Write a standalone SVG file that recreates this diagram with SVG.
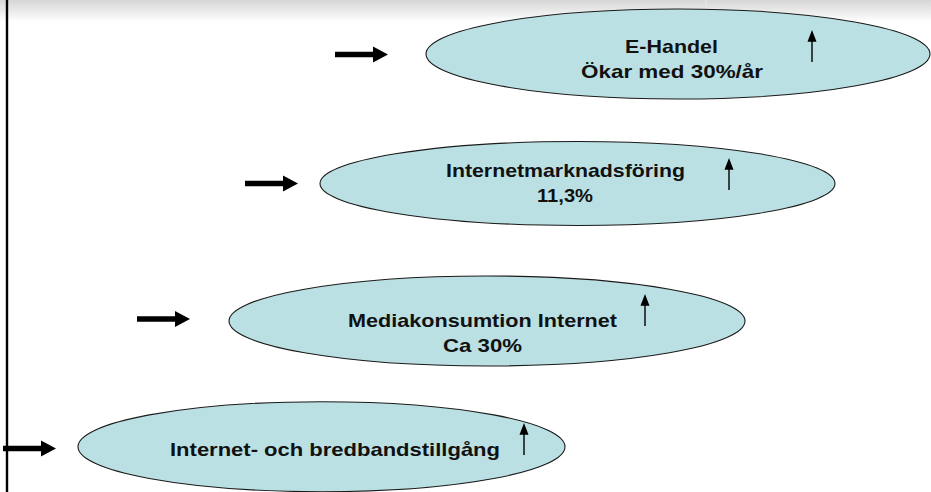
<svg xmlns="http://www.w3.org/2000/svg" width="931" height="492" viewBox="0 0 931 492">
  <defs>
    <linearGradient id="topfade" x1="0" y1="0" x2="0" y2="1">
      <stop offset="0" stop-color="#d6d6d6"/>
      <stop offset="1" stop-color="#ffffff"/>
    </linearGradient>
    <path id="blockArrow" d="M0,-2.8 H38 V-8 L53,0 L38,8 V2.8 H0 Z"/>
    <path id="upArrow" d="M0,0 V-22 M-3.5,-21 L0,-30 L3.5,-21 Z"/>
  </defs>
  <style>
    .bubble { fill: #BBE0E3; stroke: #1a1a1a; stroke-width: 1.1; }
    .lbl { font-family: "Liberation Sans", Arial, sans-serif; font-size: 19px; font-weight: bold; fill: #111; text-anchor: middle; }
    .up { stroke: #000; stroke-width: 1.4; fill: #000; }
    .blk { fill: #000; }
  </style>
  <rect x="0" y="0" width="931" height="492" fill="#ffffff"/>
  <rect x="0" y="0" width="931" height="22" fill="url(#topfade)"/>
  <line x1="706" y1="0" x2="706" y2="14" stroke="#eaeaea" stroke-width="1"/>
  <line x1="7" y1="0" x2="7" y2="492" stroke="#000" stroke-width="2.4"/>

  <g id="node-ehandel">
    <ellipse class="bubble" cx="678" cy="54" rx="252" ry="45"/>
    <text class="lbl" x="671.5" y="53" textLength="93" lengthAdjust="spacingAndGlyphs">E-Handel</text>
    <text class="lbl" x="672" y="78" textLength="182" lengthAdjust="spacingAndGlyphs">Ökar med 30%/år</text>
    <use href="#upArrow" class="up" transform="translate(812,62)"/>
  </g>

  <g id="node-internetmarknadsforing">
    <ellipse class="bubble" cx="577.5" cy="183.5" rx="257.5" ry="42"/>
    <text class="lbl" x="565.5" y="177" textLength="239" lengthAdjust="spacingAndGlyphs">Internetmarknadsföring</text>
    <text class="lbl" x="565" y="202" textLength="56" lengthAdjust="spacingAndGlyphs">11,3%</text>
    <use href="#upArrow" class="up" transform="translate(729,190)"/>
  </g>

  <g id="node-mediakonsumtion">
    <ellipse class="bubble" cx="487" cy="321" rx="258" ry="45"/>
    <text class="lbl" x="482.5" y="327" textLength="269" lengthAdjust="spacingAndGlyphs">Mediakonsumtion Internet</text>
    <text class="lbl" x="482.5" y="352" textLength="79" lengthAdjust="spacingAndGlyphs">Ca 30%</text>
    <use href="#upArrow" class="up" transform="translate(645,326)"/>
  </g>

  <g id="node-bredband">
    <ellipse class="bubble" cx="321.5" cy="446.7" rx="243.5" ry="45"/>
    <text class="lbl" x="335" y="456" textLength="330" lengthAdjust="spacingAndGlyphs">Internet- och bredbandstillgång</text>
    <use href="#upArrow" class="up" transform="translate(524,455)"/>
  </g>

  <g id="connectors">
    <use href="#blockArrow" class="blk" transform="translate(335,54.5)"/>
    <use href="#blockArrow" class="blk" transform="translate(245,183.5)"/>
    <use href="#blockArrow" class="blk" transform="translate(137,319)"/>
    <use href="#blockArrow" class="blk" transform="translate(3,448.5)"/>
  </g>
</svg>
